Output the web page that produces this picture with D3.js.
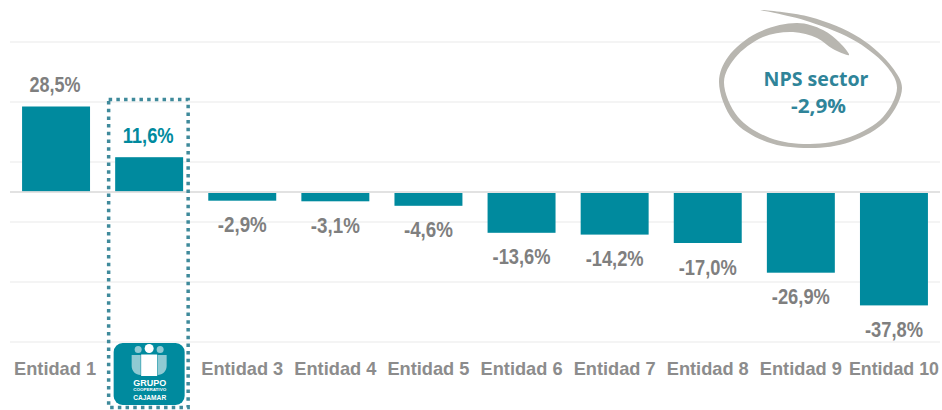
<!DOCTYPE html>
<html><head><meta charset="utf-8">
<script src="https://cdnjs.cloudflare.com/ajax/libs/d3/7.8.5/d3.min.js"></script>
<style>html,body{margin:0;padding:0;background:#fff}svg{display:block}</style></head>
<body><svg id="c" width="942" height="410"></svg>
<script>
const categories=["Entidad 1","","Entidad 3","Entidad 4","Entidad 5","Entidad 6","Entidad 7","Entidad 8","Entidad 9","Entidad 10"];
const keys=d3.range(10);
const values=[28.5,11.6,-2.9,-3.1,-4.6,-13.6,-14.2,-17.0,-26.9,-37.8];
const labels=["28,5%","11,6%","-2,9%","-3,1%","-4,6%","-13,6%","-14,2%","-17,0%","-26,9%","-37,8%"];
const gridTicks=[-50,-30,-10,10,30,50];
const highlightIndex=1;
const sectorLines=["NPS sector","-2,9%"];
const logoLines=["GRUPO","COOPERATIVO","CAJAMAR"];

const svg=d3.select("#c");
const x=d3.scaleBand().domain(keys).range([9.5,940.5]).paddingInner(0.27).paddingOuter(0.135);
const y=d3.scaleLinear().domain([-50,50]).range([342,42]);
const teal="#008a9e", grey="#7f7f7f";

svg.append("g").selectAll("line").data(gridTicks).join("line")
 .attr("x1",10).attr("x2",940).attr("y1",d=>y(d)).attr("y2",d=>y(d))
 .attr("stroke","#f0f0f0").attr("stroke-width",1.3);

svg.append("g").selectAll("rect").data(values).join("rect")
 .attr("x",(d,i)=>x(i)).attr("width",x.bandwidth())
 .attr("y",d=>y(Math.max(d,0))+(d<0?1:0))
 .attr("height",d=>Math.abs(y(d)-y(0))-(d<0?1:0)-(d>0?0.5:0))
 .attr("fill",teal);

svg.append("line").attr("x1",10).attr("x2",940).attr("y1",y(0)).attr("y2",y(0))
 .attr("stroke","#d9d9d9").attr("stroke-width",1.5);

svg.append("g").selectAll("text").data(values).join("text")
 .attr("x",(d,i)=>x(i)+x.bandwidth()/2+(i<2?-1:0))
 .attr("y",(d,i)=>d>=0?y(d)-14.5:y(d)+31.5)
 .attr("text-anchor","middle")
 .attr("font-family","Liberation Sans, Arial, sans-serif").attr("font-weight",700).attr("font-size",21.5)
 .attr("textLength",(d,i)=>labels[i].length>5?58:(d<0?49:51)).attr("lengthAdjust","spacingAndGlyphs")
 .attr("fill",(d,i)=>i===highlightIndex?teal:grey)
 .text((d,i)=>labels[i]);

svg.append("g").selectAll("text").data(categories).join("text")
 .attr("x",(d,i)=>x(i)+x.bandwidth()/2-(i===0?1:0))
 .attr("y",374.5)
 .attr("text-anchor","middle")
 .attr("font-family","Liberation Sans, Arial, sans-serif").attr("font-weight",700).attr("font-size",19)
 .attr("textLength",(d,i)=>i===9?90:82).attr("lengthAdjust","spacingAndGlyphs")
 .attr("fill","#8c8c8c")
 .text(d=>d);

// dotted highlight box
const bx=x(highlightIndex)+x.bandwidth()/2;
svg.append("rect").attr("x",bx-40.5).attr("y",99.5).attr("width",79.5).attr("height",308)
 .attr("fill","none").attr("stroke","#3f8a9b").attr("stroke-width",3.5).attr("stroke-dasharray","3.5 4.2");

// logo
const logo=svg.append("g").attr("transform",`translate(${bx},0)`);
logo.append("rect").attr("x",-35.5).attr("y",343).attr("width",71).attr("height",62).attr("rx",9).attr("fill",teal);
logo.append("path").attr("d","M-17.5 355h9v20c-5 0-9-4-9-9zM17.5 355h-9v20c5 0 9-4 9-9z").attr("fill","#8fcad3");
logo.append("circle").attr("cx",-11).attr("cy",349.5).attr("r",3.5).attr("fill","#8fcad3");
logo.append("circle").attr("cx",11).attr("cy",349.5).attr("r",3.5).attr("fill","#8fcad3");
logo.append("rect").attr("x",-8).attr("y",354.5).attr("width",16).attr("height",21.5).attr("fill","#fff");
logo.append("circle").attr("cx",0).attr("cy",348.5).attr("r",4.5).attr("fill","#fff");
logo.selectAll("text").data(logoLines).join("text")
 .attr("x",0.5).attr("y",(d,i)=>[386,391.3,399.5][i]).attr("text-anchor","middle")
 .attr("font-family","Liberation Sans, Arial, sans-serif").attr("font-weight",700)
 .attr("font-size",(d,i)=>[8.5,3.5,8][i]).attr("textLength",33).attr("lengthAdjust","spacingAndGlyphs")
 .attr("fill","#fff").text(d=>d);

// sector swoosh traced as outer then inner edge
const swooshEdge=[[760,10],[810,17],[860,38],[892,67],[902,88],[887,120],[850,142],[810,148],[767,142],[733,120],[719,82],[728,57],[757,33],[797,23],[823,30],[840,43],[849,55],
 [833,49],[817,38],[793,32],[763,37],[735,58],[724,82],[738,117],[770,138],[810,144],[850,137],[883,117],[897,88],[888,68],[857,42],[810,22],[775,13]];
svg.append("path").attr("fill","#b8b6b0")
 .attr("d",d3.line().curve(d3.curveCatmullRomClosed.alpha(0.5))(swooshEdge));

svg.append("g").selectAll("text").data(sectorLines).join("text")
 .attr("x",(d,i)=>i===0?816:818.5).attr("y",(d,i)=>i===0?86:113)
 .attr("text-anchor","middle")
 .attr("font-family","Open Sans, sans-serif").attr("font-weight",700).attr("font-size",19.5)
 .attr("textLength",(d,i)=>i===0?105:55).attr("lengthAdjust","spacingAndGlyphs")
 .attr("fill","#2f8499").text(d=>d);
</script></body></html>
